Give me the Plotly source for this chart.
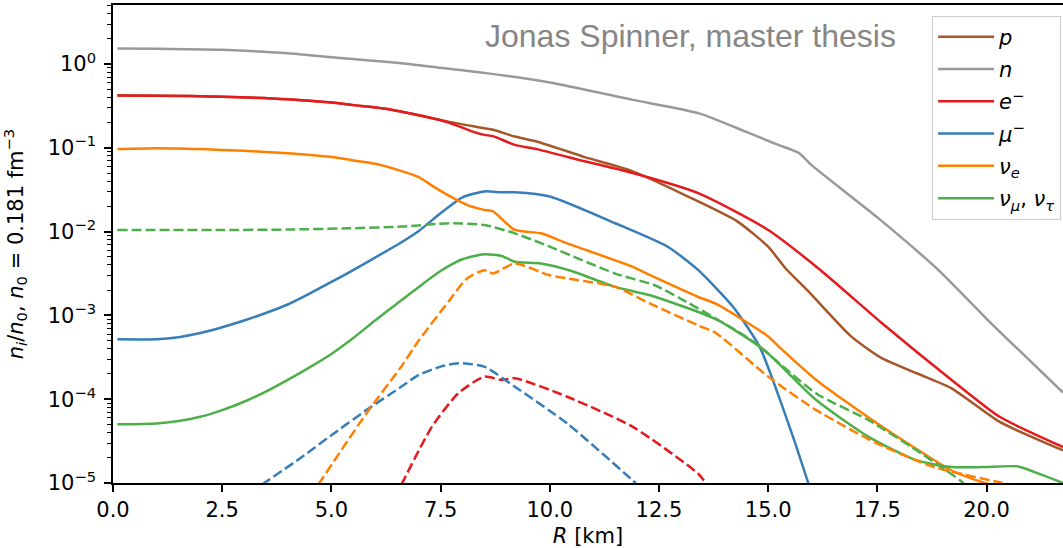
import plotly.graph_objects as go

# ---------------- data ----------------
# neutron n
R_n = [0.1, 1.0, 2.5, 4.0, 5.0, 6.5, 7.5, 8.5, 10.0, 11.9, 13.4, 14.5, 15.2, 15.7, 16.0, 17.5, 18.9, 20.0, 21.75]
n_n = [1.535, 1.528, 1.479, 1.349, 1.202, 1.035, 0.902, 0.785, 0.603, 0.374, 0.260, 0.155, 0.110,
       0.0871, 0.0617, 0.0148, 0.00347, 9.12e-4, 1.20e-4]

# proton p
R_p = [0.1, 1.0, 2.5, 4.0, 5.0, 5.5, 6.2, 6.95, 7.7, 8.5, 8.7, 9.2, 9.7, 10.8, 11.9, 13.4, 14.3, 15.0,
       15.4, 15.9, 16.9, 17.6, 18.4, 19.2, 20.3, 21.75]
n_p = [0.4217, 0.4198, 0.4074, 0.3802, 0.3467, 0.3236, 0.2951, 0.2483, 0.2042, 0.1718, 0.1641, 0.1365,
       0.1189, 0.0776, 0.0525, 0.0229, 0.01318, 0.00661, 0.00363, 0.001995, 5.62e-4, 3.09e-4, 2.04e-4,
       1.35e-4, 5.37e-5, 2.45e-5]

# electron e-
R_e = [0.1, 1.0, 2.5, 4.0, 5.0, 5.5, 6.2, 6.95, 7.7, 8.2, 8.5, 8.7, 9.2, 9.7, 10.8, 11.9, 13.4, 15.0,
       16.2, 17.6, 19.2, 20.3, 21.75]
n_e = [0.4217, 0.4198, 0.4074, 0.3802, 0.3467, 0.3236, 0.2951, 0.2483, 0.1995, 0.1585, 0.1429, 0.1380,
       0.1084, 0.0966, 0.0692, 0.0501, 0.0288, 0.01047, 0.003467, 8.13e-4, 1.70e-4, 6.17e-5, 2.69e-5]

# muon mu-
R_mu = [0.1, 1.0, 1.5, 2.0, 2.5, 3.0, 3.5, 4.0, 4.5, 5.0, 5.5, 6.0, 6.5, 7.0, 7.5, 8.0, 8.5, 8.9, 9.2,
        10.0, 11.5, 12.7, 13.4, 14.2, 14.8, 15.3, 15.9, 16.0]
n_mu = [5.19e-4, 5.19e-4, 5.50e-4, 6.17e-4, 7.24e-4, 8.71e-4, 1.07e-3, 1.35e-3, 1.82e-3, 2.51e-3,
        3.47e-3, 4.90e-3, 6.92e-3, 1.02e-2, 1.66e-2, 2.57e-2, 0.0302, 0.0295, 0.0295, 0.0263, 0.0126,
        6.61e-3, 3.47e-3, 1.26e-3, 4.27e-4, 8.91e-5, 1.07e-5, 7.1e-6]

# electron neutrino nu_e
R_nue = [0.1, 1.0, 2.0, 3.0, 4.0, 5.0, 5.5, 6.0, 6.5, 7.0, 7.33, 7.72, 8.1, 8.5, 8.7, 9.2, 9.8, 10.4,
         11.9, 12.3, 13.4, 13.8, 15.0, 15.3, 16.1, 17.5, 19.2, 19.9, 20.1]
n_nue = [0.0966, 0.0989, 0.0966, 0.0923, 0.0861, 0.0776, 0.0708, 0.0646, 0.0550, 0.0447, 0.0347, 0.0263,
         0.0209, 0.0182, 0.0174, 0.01047, 9.55e-3, 7.24e-3, 3.80e-3, 3.02e-3, 1.66e-3, 1.38e-3, 5.62e-4,
         3.98e-4, 1.70e-4, 5.13e-5, 1.41e-5, 1.02e-5, 9.5e-6]

# mu/tau neutrinos
R_numu = [0.1, 1.0, 1.5, 2.0, 2.5, 3.0, 3.5, 4.0, 4.5, 5.0, 5.5, 6.0, 6.5, 7.0, 7.5, 8.0, 8.5, 8.9, 9.2,
          9.8, 10.5, 11.5, 12.3, 13.4, 13.9, 14.9, 16.1, 17.3, 18.4, 19.2, 19.9, 20.7, 21.1, 21.75]
n_numu = [5.01e-5, 5.13e-5, 5.50e-5, 6.17e-5, 7.41e-5, 9.33e-5, 1.23e-4, 1.70e-4, 2.40e-4, 3.47e-4,
          5.37e-4, 8.71e-4, 1.38e-3, 2.19e-3, 3.39e-3, 4.68e-3, 5.37e-3, 5.13e-3, 4.37e-3, 4.17e-3,
          3.39e-3, 2.19e-3, 1.74e-3, 1.10e-3, 8.51e-4, 3.89e-4, 9.77e-5, 3.55e-5, 1.86e-5, 1.55e-5,
          1.55e-5, 1.58e-5, 1.35e-5, 1.0e-5]

# antiparticles (dashed)
R_anti_e = [6.6, 7.3, 7.9, 8.5, 8.9, 9.2, 10.4, 11.9, 13.4, 13.6]
n_anti_e = [9.5e-6, 4.68e-5, 1.17e-4, 1.86e-4, 1.70e-4, 1.78e-4, 1.07e-4, 4.68e-5, 1.29e-5, 9.5e-6]

R_anti_mu = [3.4, 4.3, 5.0, 5.8, 6.6, 7.0, 7.5, 7.9, 8.5, 9.2, 10.4, 11.9, 12.0]
n_anti_mu = [9.5e-6, 2.00e-5, 3.72e-5, 7.41e-5, 1.41e-4, 1.95e-4, 2.45e-4, 2.69e-4, 2.45e-4, 1.41e-4,
             5.13e-5, 1.07e-5, 9.5e-6]

R_anti_nue = [4.7, 5.8, 6.6, 7.0, 7.7, 8.1, 8.5, 8.7, 9.2, 10.0, 11.5, 12.3, 13.4, 13.8, 15.0, 16.1,
              17.5, 18.8, 20.3, 20.6]
n_anti_nue = [9.55e-6, 6.76e-5, 2.45e-4, 5.01e-4, 1.51e-3, 2.75e-3, 3.47e-3, 3.16e-3, 4.17e-3, 3.02e-3,
              2.19e-3, 1.38e-3, 7.59e-4, 6.17e-4, 1.86e-4, 7.41e-5, 2.95e-5, 1.55e-5, 1.02e-5, 9.5e-6]

R_anti_numu = [0.1, 2.5, 4.0, 5.4, 6.6, 7.7, 8.5, 9.2, 10.0, 11.5, 12.4, 13.0, 14.6, 16.1, 17.3, 18.4,
               19.4, 19.5]
n_anti_numu = [0.01047, 0.01047, 0.01059, 0.01096, 0.01148, 0.01259, 0.0120, 9.55e-3, 6.61e-3, 3.16e-3,
               2.29e-3, 1.58e-3, 5.13e-4, 1.17e-4, 5.62e-5, 2.45e-5, 1.07e-5, 9.5e-6]

x_tickvals = [0.0, 2.5, 5.0, 7.5, 10.0, 12.5, 15.0, 17.5, 20.0]
x_ticktext = ["0.0", "2.5", "5.0", "7.5", "10.0", "12.5", "15.0", "17.5", "20.0"]
y_exponents = [-5, -4, -3, -2, -1, 0]

# ---------------- styling ----------------
C_BROWN = "#a65628"
C_GRAY = "#999999"
C_RED = "#e41a1c"
C_BLUE = "#377eb8"
C_ORANGE = "#ff7f00"
C_GREEN = "#4daf4a"
LW = 2.5
DASH = "10px,4px"
SMOOTH = 0.6
FS = 21

fig = go.Figure()

solid = [
    (R_p, n_p, C_BROWN, "<i>p</i>"),
    (R_n, n_n, C_GRAY, "<i>n</i>"),
    (R_e, n_e, C_RED, "<i>e</i><sup>\u2212</sup>"),
    (R_mu, n_mu, C_BLUE, "<i>\u03bc</i><sup>\u2212</sup>"),
    (R_nue, n_nue, C_ORANGE, "<i>\u03bd<sub>e</sub></i>"),
    (R_numu, n_numu, C_GREEN, "<i>\u03bd<sub>\u03bc</sub></i>, <i>\u03bd<sub>\u03c4</sub></i>"),
]
for i, (R, v, c, name) in enumerate(solid):
    fig.add_trace(go.Scatter(x=R, y=v, mode="lines", name=name, legendgroup=f"g{i}",
                             line=dict(color=c, width=LW, shape="spline", smoothing=SMOOTH)))

dashed = [
    (R_anti_e, n_anti_e, C_RED),
    (R_anti_mu, n_anti_mu, C_BLUE),
    (R_anti_nue, n_anti_nue, C_ORANGE),
    (R_anti_numu, n_anti_numu, C_GREEN),
]
for R, v, c in dashed:
    fig.add_trace(go.Scatter(x=R, y=v, mode="lines", showlegend=False,
                             line=dict(color=c, width=LW, dash=DASH, shape="spline", smoothing=SMOOTH)))

y_tickvals = [10.0 ** e for e in y_exponents]
y_ticktext = [f"10<sup>{'\u2212' if e < 0 else ''}{abs(e)}</sup>" for e in y_exponents]
y_minor = [m * 10.0 ** e for e in range(-5, 1) for m in range(2, 10)]

fig.update_layout(
    width=1063, height=548,
    margin=dict(l=113, r=0, t=5, b=65, autoexpand=False),
    plot_bgcolor="white", paper_bgcolor="white",
    font=dict(family="DejaVu Sans", size=FS, color="black"),
    xaxis=dict(
        range=[0, 21.75], showgrid=False, zeroline=False,
        showline=True, linecolor="black", linewidth=1.5, mirror=True,
        ticks="outside", ticklen=7, tickwidth=1.5, tickcolor="black",
        tickvals=x_tickvals, ticktext=x_ticktext, tickfont=dict(size=FS),
        title=dict(text="<i>R</i> [km]", standoff=11, font=dict(size=FS)),
    ),
    yaxis=dict(
        type="log", range=[-5, 0.705], showgrid=False, zeroline=False,
        showline=True, linecolor="black", linewidth=1.5, mirror=False,
        ticks="outside", ticklen=7, tickwidth=1.5, tickcolor="black",
        tickvals=y_tickvals, ticktext=y_ticktext, tickfont=dict(size=FS),
        ticklabelstandoff=4,
        minor=dict(tickvals=y_minor, ticks="outside", ticklen=4, tickwidth=1, tickcolor="black"),
        title=dict(text="<i>n<sub>i</sub></i>/<i>n</i><sub>0</sub>, <i>n</i><sub>0</sub> = 0.181 fm<sup>\u22123</sup>",
                   standoff=19, font=dict(size=FS)),
    ),
    legend=dict(
        x=0.998, xanchor="right", y=0.978, yanchor="top",
        bgcolor="rgba(255,255,255,0.85)", bordercolor="#cccccc", borderwidth=1,
        font=dict(size=FS), tracegroupgap=2, itemwidth=56,
    ),
    annotations=[dict(
        text="Jonas Spinner, master thesis", xref="paper", yref="paper",
        x=0.826, y=0.936, xanchor="right", yanchor="middle", showarrow=False,
        font=dict(family="Liberation Sans", size=32, color="#868686"),
    )],
)

fig.write_html("out.html", config={"displayModeBar": False},
               post_script="document.body.style.margin='0';document.body.style.overflow='hidden';")
